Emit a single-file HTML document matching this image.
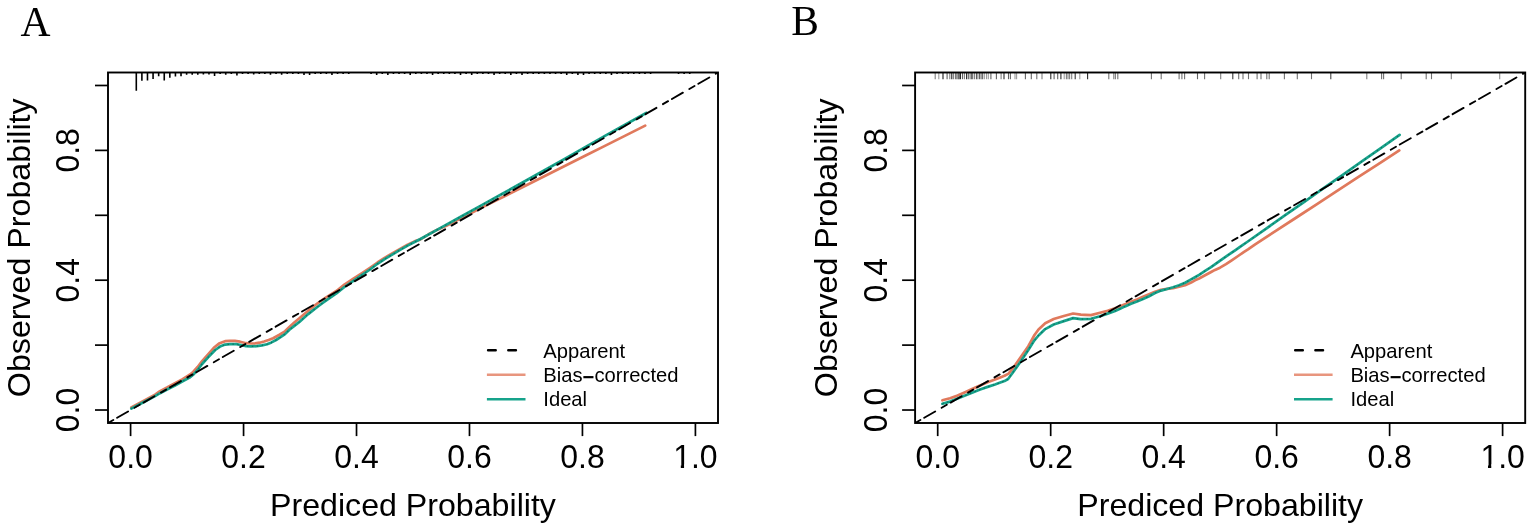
<!DOCTYPE html>
<html><head><meta charset="utf-8"><title>Calibration curves</title>
<style>
html,body{margin:0;padding:0;background:#fff;}
body{width:1535px;height:532px;overflow:hidden;}
svg{display:block;}
.tl{font-family:"Liberation Sans",Arial,Helvetica,sans-serif;font-size:32px;fill:#000;}
.lg{font-family:"Liberation Sans",Arial,Helvetica,sans-serif;font-size:20.2px;fill:#000;}
.ttl{font-family:"Liberation Serif","Times New Roman",serif;font-size:41.5px;fill:#000;}
.tk{stroke:#000;stroke-width:1.7;}
.frm{fill:none;stroke:#000;stroke-width:1.9;}
.diag{stroke:#000;stroke-width:1.9;stroke-linecap:round;stroke-dasharray:5.95 4.43 12.63 7.46;stroke-dashoffset:-0.14;}
.dots{fill:none;stroke:#000;stroke-opacity:.3;stroke-width:1.2;stroke-dasharray:1.4 3.5;stroke-linejoin:round;}
.lgd{stroke:#000;stroke-width:2.5;stroke-dasharray:7.6 12.6;stroke-linecap:round;}
</style></head><body>
<svg width="1535" height="532" viewBox="0 0 1535 532">
<defs>
<clipPath id="clipA"><rect x="108" y="72.5" width="610" height="350.5"/></clipPath>
<clipPath id="clipB"><rect x="915.1" y="72.5" width="610.1" height="350.5"/></clipPath>
</defs>
<text x="20.5" y="35.8" class="ttl">A</text>
<text x="791.3" y="35.2" class="ttl">B</text>
<path d="M136.30 72.5V90.8M141.89 72.5V80.7M147.48 72.5V80.5M153.07 72.5V78.9M158.66 72.5V76.3M164.25 72.5V80.6M169.84 72.5V77.8M175.43 72.5V76.5M181.02 72.5V76.3M186.61 72.5V74.8M192.20 72.5V74.8M197.79 72.5V74.8M203.38 72.5V74.5M208.97 72.5V74.4M214.56 72.5V76.1M220.15 72.5V74.1M225.74 72.5V74.7M231.33 72.5V74.1M236.92 72.5V75.6M242.51 72.5V74.1M248.10 72.5V74.1M253.69 72.5V74.5M259.28 72.5V74.1M264.87 72.5V74.1M270.46 72.5V74.7M276.05 72.5V74.1M281.64 72.5V74.7M287.23 72.5V74.1M292.82 72.5V74.1M298.41 72.5V74.1M304.00 72.5V75.0M309.59 72.5V75.0M315.18 72.5V74.1M320.77 72.5V74.1M326.36 72.5V74.1M331.95 72.5V75.0M337.54 72.5V74.1M343.13 72.5V74.1M348.72 72.5V74.1M371.08 72.5V74.1M376.67 72.5V75.0M382.26 72.5V74.1M387.85 72.5V75.0M393.44 72.5V74.1M399.03 72.5V74.1M404.62 72.5V74.1M410.21 72.5V75.0M415.80 72.5V74.1M421.39 72.5V74.1M426.98 72.5V74.1M432.57 72.5V75.0M438.16 72.5V74.1M443.75 72.5V74.1M449.34 72.5V74.1M454.93 72.5V74.1M460.52 72.5V75.0M466.11 72.5V74.1M471.70 72.5V75.0M477.29 72.5V74.1M482.88 72.5V74.1M488.47 72.5V74.1M494.06 72.5V75.0M499.65 72.5V74.1M505.24 72.5V74.1M510.83 72.5V75.0M516.42 72.5V74.1M522.01 72.5V75.0M527.60 72.5V74.1M533.19 72.5V74.1M538.78 72.5V74.1M544.37 72.5V74.1M549.96 72.5V74.1M555.55 72.5V74.1M561.14 72.5V74.1M566.73 72.5V75.0M572.32 72.5V74.1M577.91 72.5V75.0M583.50 72.5V75.0M589.09 72.5V74.1M594.68 72.5V74.1M600.27 72.5V74.1M605.86 72.5V74.1M611.45 72.5V75.0M617.04 72.5V74.1M622.63 72.5V74.1M628.22 72.5V74.1M633.81 72.5V74.1M639.40 72.5V74.1M644.99 72.5V74.1M650.58 72.5V74.1M678.53 72.5V74.1M684.12 72.5V74.1M689.71 72.5V74.1" stroke="#000" stroke-width="1.6" fill="none"/>
<line x1="935.2" y1="72.5" x2="935.2" y2="79.2" stroke="rgb(126,126,126)" stroke-width="1.1"/>
<line x1="938.8" y1="72.5" x2="938.8" y2="79.2" stroke="rgb(155,155,155)" stroke-width="1.1"/>
<line x1="943.0" y1="72.5" x2="943.0" y2="79.2" stroke="rgb(27,27,27)" stroke-width="1.1"/>
<line x1="947.1" y1="72.5" x2="947.1" y2="79.2" stroke="rgb(98,98,98)" stroke-width="1.1"/>
<line x1="949.8" y1="72.5" x2="949.8" y2="79.2" stroke="rgb(126,126,126)" stroke-width="1.1"/>
<line x1="951.8" y1="72.5" x2="951.8" y2="79.2" stroke="rgb(27,27,27)" stroke-width="1.1"/>
<line x1="953.6" y1="72.5" x2="953.6" y2="79.2" stroke="rgb(126,126,126)" stroke-width="1.1"/>
<line x1="955.7" y1="72.5" x2="955.7" y2="79.2" stroke="rgb(98,98,98)" stroke-width="1.1"/>
<line x1="957.0" y1="72.5" x2="957.0" y2="79.2" stroke="rgb(98,98,98)" stroke-width="1.1"/>
<line x1="958.4" y1="72.5" x2="958.4" y2="79.2" stroke="rgb(98,98,98)" stroke-width="1.1"/>
<line x1="959.3" y1="72.5" x2="959.3" y2="79.2" stroke="rgb(112,112,112)" stroke-width="1.1"/>
<line x1="960.4" y1="72.5" x2="960.4" y2="79.2" stroke="rgb(27,27,27)" stroke-width="1.1"/>
<line x1="962.5" y1="72.5" x2="962.5" y2="79.2" stroke="rgb(98,98,98)" stroke-width="1.1"/>
<line x1="964.4" y1="72.5" x2="964.4" y2="79.2" stroke="rgb(126,126,126)" stroke-width="1.1"/>
<line x1="966.7" y1="72.5" x2="966.7" y2="79.2" stroke="rgb(12,12,12)" stroke-width="1.1"/>
<line x1="968.6" y1="72.5" x2="968.6" y2="79.2" stroke="rgb(112,112,112)" stroke-width="1.1"/>
<line x1="970.1" y1="72.5" x2="970.1" y2="79.2" stroke="rgb(141,141,141)" stroke-width="1.1"/>
<line x1="971.4" y1="72.5" x2="971.4" y2="79.2" stroke="rgb(98,98,98)" stroke-width="1.1"/>
<line x1="972.7" y1="72.5" x2="972.7" y2="79.2" stroke="rgb(98,98,98)" stroke-width="1.1"/>
<line x1="974.6" y1="72.5" x2="974.6" y2="79.2" stroke="rgb(126,126,126)" stroke-width="1.1"/>
<line x1="976.6" y1="72.5" x2="976.6" y2="79.2" stroke="rgb(84,84,84)" stroke-width="1.1"/>
<line x1="977.9" y1="72.5" x2="977.9" y2="79.2" stroke="rgb(141,141,141)" stroke-width="1.1"/>
<line x1="979.5" y1="72.5" x2="979.5" y2="79.2" stroke="rgb(98,98,98)" stroke-width="1.1"/>
<line x1="981.0" y1="72.5" x2="981.0" y2="79.2" stroke="rgb(126,126,126)" stroke-width="1.1"/>
<line x1="982.3" y1="72.5" x2="982.3" y2="79.2" stroke="rgb(84,84,84)" stroke-width="1.1"/>
<line x1="984.2" y1="72.5" x2="984.2" y2="79.2" stroke="rgb(141,141,141)" stroke-width="1.1"/>
<line x1="986.5" y1="72.5" x2="986.5" y2="79.2" stroke="rgb(155,155,155)" stroke-width="1.1"/>
<line x1="988.3" y1="72.5" x2="988.3" y2="79.2" stroke="rgb(155,155,155)" stroke-width="1.1"/>
<line x1="990.9" y1="72.5" x2="990.9" y2="79.2" stroke="rgb(98,98,98)" stroke-width="1.1"/>
<line x1="996.4" y1="72.5" x2="996.4" y2="79.2" stroke="rgb(98,98,98)" stroke-width="1.1"/>
<line x1="1001.1" y1="72.5" x2="1001.1" y2="79.2" stroke="rgb(126,126,126)" stroke-width="1.1"/>
<line x1="1004.0" y1="72.5" x2="1004.0" y2="79.2" stroke="rgb(41,41,41)" stroke-width="1.1"/>
<line x1="1008.5" y1="72.5" x2="1008.5" y2="79.2" stroke="rgb(98,98,98)" stroke-width="1.1"/>
<line x1="1010.4" y1="72.5" x2="1010.4" y2="79.2" stroke="rgb(98,98,98)" stroke-width="1.1"/>
<line x1="1015.0" y1="72.5" x2="1015.0" y2="79.2" stroke="rgb(155,155,155)" stroke-width="1.1"/>
<line x1="1016.6" y1="72.5" x2="1016.6" y2="79.2" stroke="rgb(155,155,155)" stroke-width="1.1"/>
<line x1="1025.4" y1="72.5" x2="1025.4" y2="79.2" stroke="rgb(98,98,98)" stroke-width="1.1"/>
<line x1="1031.3" y1="72.5" x2="1031.3" y2="79.2" stroke="rgb(98,98,98)" stroke-width="1.1"/>
<line x1="1036.8" y1="72.5" x2="1036.8" y2="79.2" stroke="rgb(112,112,112)" stroke-width="1.1"/>
<line x1="1042.0" y1="72.5" x2="1042.0" y2="79.2" stroke="rgb(126,126,126)" stroke-width="1.1"/>
<line x1="1050.8" y1="72.5" x2="1050.8" y2="79.2" stroke="rgb(41,41,41)" stroke-width="1.1"/>
<line x1="1054.1" y1="72.5" x2="1054.1" y2="79.2" stroke="rgb(98,98,98)" stroke-width="1.1"/>
<line x1="1057.7" y1="72.5" x2="1057.7" y2="79.2" stroke="rgb(98,98,98)" stroke-width="1.1"/>
<line x1="1060.9" y1="72.5" x2="1060.9" y2="79.2" stroke="rgb(41,41,41)" stroke-width="1.1"/>
<line x1="1064.2" y1="72.5" x2="1064.2" y2="79.2" stroke="rgb(155,155,155)" stroke-width="1.1"/>
<line x1="1066.4" y1="72.5" x2="1066.4" y2="79.2" stroke="rgb(126,126,126)" stroke-width="1.1"/>
<line x1="1068.0" y1="72.5" x2="1068.0" y2="79.2" stroke="rgb(126,126,126)" stroke-width="1.1"/>
<line x1="1069.6" y1="72.5" x2="1069.6" y2="79.2" stroke="rgb(126,126,126)" stroke-width="1.1"/>
<line x1="1071.7" y1="72.5" x2="1071.7" y2="79.2" stroke="rgb(126,126,126)" stroke-width="1.1"/>
<line x1="1075.2" y1="72.5" x2="1075.2" y2="79.2" stroke="rgb(55,55,55)" stroke-width="1.1"/>
<line x1="1079.8" y1="72.5" x2="1079.8" y2="79.2" stroke="rgb(155,155,155)" stroke-width="1.1"/>
<line x1="1087.6" y1="72.5" x2="1087.6" y2="79.2" stroke="rgb(41,41,41)" stroke-width="1.1"/>
<line x1="1108.8" y1="72.5" x2="1108.8" y2="79.2" stroke="rgb(112,112,112)" stroke-width="1.1"/>
<line x1="1113.8" y1="72.5" x2="1113.8" y2="79.2" stroke="rgb(126,126,126)" stroke-width="1.1"/>
<line x1="1115.4" y1="72.5" x2="1115.4" y2="79.2" stroke="rgb(126,126,126)" stroke-width="1.1"/>
<line x1="1117.8" y1="72.5" x2="1117.8" y2="79.2" stroke="rgb(112,112,112)" stroke-width="1.1"/>
<line x1="1151.4" y1="72.5" x2="1151.4" y2="79.2" stroke="rgb(112,112,112)" stroke-width="1.1"/>
<line x1="1161.2" y1="72.5" x2="1161.2" y2="79.2" stroke="rgb(112,112,112)" stroke-width="1.1"/>
<line x1="1179.1" y1="72.5" x2="1179.1" y2="79.2" stroke="rgb(112,112,112)" stroke-width="1.1"/>
<line x1="1181.9" y1="72.5" x2="1181.9" y2="79.2" stroke="rgb(112,112,112)" stroke-width="1.1"/>
<line x1="1184.6" y1="72.5" x2="1184.6" y2="79.2" stroke="rgb(112,112,112)" stroke-width="1.1"/>
<line x1="1197.5" y1="72.5" x2="1197.5" y2="79.2" stroke="rgb(98,98,98)" stroke-width="1.1"/>
<line x1="1204.6" y1="72.5" x2="1204.6" y2="79.2" stroke="rgb(112,112,112)" stroke-width="1.1"/>
<line x1="1220.7" y1="72.5" x2="1220.7" y2="79.2" stroke="rgb(126,126,126)" stroke-width="1.1"/>
<line x1="1232.8" y1="72.5" x2="1232.8" y2="79.2" stroke="rgb(55,55,55)" stroke-width="1.1"/>
<line x1="1238.7" y1="72.5" x2="1238.7" y2="79.2" stroke="rgb(112,112,112)" stroke-width="1.1"/>
<line x1="1243.0" y1="72.5" x2="1243.0" y2="79.2" stroke="rgb(112,112,112)" stroke-width="1.1"/>
<line x1="1248.5" y1="72.5" x2="1248.5" y2="79.2" stroke="rgb(112,112,112)" stroke-width="1.1"/>
<line x1="1257.1" y1="72.5" x2="1257.1" y2="79.2" stroke="rgb(112,112,112)" stroke-width="1.1"/>
<line x1="1261.0" y1="72.5" x2="1261.0" y2="79.2" stroke="rgb(112,112,112)" stroke-width="1.1"/>
<line x1="1266.8" y1="72.5" x2="1266.8" y2="79.2" stroke="rgb(112,112,112)" stroke-width="1.1"/>
<line x1="1269.2" y1="72.5" x2="1269.2" y2="79.2" stroke="rgb(112,112,112)" stroke-width="1.1"/>
<line x1="1284.4" y1="72.5" x2="1284.4" y2="79.2" stroke="rgb(112,112,112)" stroke-width="1.1"/>
<line x1="1297.3" y1="72.5" x2="1297.3" y2="79.2" stroke="rgb(112,112,112)" stroke-width="1.1"/>
<line x1="1311.5" y1="72.5" x2="1311.5" y2="79.2" stroke="rgb(112,112,112)" stroke-width="1.1"/>
<line x1="1330.8" y1="72.5" x2="1330.8" y2="79.2" stroke="rgb(69,69,69)" stroke-width="1.1"/>
<line x1="1366.8" y1="72.5" x2="1366.8" y2="79.2" stroke="rgb(126,126,126)" stroke-width="1.1"/>
<line x1="1381.6" y1="72.5" x2="1381.6" y2="79.2" stroke="rgb(112,112,112)" stroke-width="1.1"/>
<line x1="1383.6" y1="72.5" x2="1383.6" y2="79.2" stroke="rgb(112,112,112)" stroke-width="1.1"/>
<line x1="1401.2" y1="72.5" x2="1401.2" y2="79.2" stroke="rgb(112,112,112)" stroke-width="1.1"/>
<line x1="1426.2" y1="72.5" x2="1426.2" y2="79.2" stroke="rgb(112,112,112)" stroke-width="1.1"/>
<line x1="1431.5" y1="72.5" x2="1431.5" y2="79.2" stroke="rgb(112,112,112)" stroke-width="1.1"/>
<line x1="1451.3" y1="72.5" x2="1451.3" y2="79.2" stroke="rgb(126,126,126)" stroke-width="1.1"/>
<line x1="1499.7" y1="72.5" x2="1499.7" y2="79.2" stroke="rgb(141,141,141)" stroke-width="1.1"/>
<polyline points="131.3,407.5 143.0,401.2 155.1,394.6 160.0,391.1 167.5,387.3 175.0,383.2 182.6,379.1 190.1,374.5 193.1,371.9 197.6,367.0 202.1,361.2 208.1,354.4 213.8,347.8 219.0,343.6 225.1,341.2 230.0,340.9 234.8,340.8 240.0,341.7 246.1,343.2 250.6,343.5 255.1,343.4 259.6,342.7 264.1,341.5 268.6,340.0 273.1,338.2 279.0,335.0 285.0,331.3 289.4,327.0 294.0,322.8 298.8,318.7 303.5,314.7 308.2,310.7 312.9,306.9 317.6,303.3 322.3,300.0 327.0,296.9 331.7,294.0 336.4,291.0 344.4,284.6 353.8,278.5 363.2,272.4 370.0,267.8 377.5,262.5 385.0,257.6 392.6,253.1 400.1,249.0 407.6,244.8 415.1,241.1 420.0,239.6 428.6,234.3 437.9,229.4 446.4,225.8 466.3,215.5 486.2,205.4 506.0,195.5 525.9,185.5 545.8,175.5 565.7,165.5 585.6,155.5 605.4,145.6 625.3,135.6 645.2,125.6" fill="none" stroke="#E0795C" stroke-width="2.7" stroke-linejoin="round" stroke-linecap="round"/>
<polyline points="131.3,408.6 143.0,402.5 155.1,396.1 160.0,393.2 167.5,389.2 175.0,385.5 182.6,381.3 190.1,377.2 193.8,374.2 197.6,370.0 202.1,364.0 208.1,357.3 215.2,350.0 220.0,346.6 225.1,344.6 230.0,344.2 236.3,344.2 241.0,345.0 246.1,346.1 251.0,346.4 256.6,346.2 262.0,345.4 267.1,344.2 271.5,342.4 276.1,340.0 280.5,337.2 285.0,334.1 289.4,329.7 294.0,326.1 298.8,322.4 303.5,318.2 308.2,314.1 312.9,310.4 317.6,306.8 322.3,303.2 327.0,299.8 331.7,296.7 336.4,293.5 344.4,287.0 353.8,280.6 363.2,274.2 370.0,269.5 377.5,263.8 385.0,258.9 392.6,254.4 400.1,249.9 407.6,245.6 415.1,241.8 420.0,239.3 440.6,227.9 461.2,216.5 481.8,205.1 502.4,193.7 523.0,182.3 543.6,170.8 564.2,159.3 584.8,147.4 605.4,135.6 626.0,124.2 646.6,112.8" fill="none" stroke="#16A38B" stroke-width="2.7" stroke-linejoin="round" stroke-linecap="round"/>
<polyline points="942.4,400.3 950.0,398.2 957.6,395.6 965.1,392.2 972.6,388.8 980.1,385.4 987.6,382.2 995.0,379.6 1000.3,377.4 1004.5,375.8 1008.6,373.6 1013.8,367.1 1021.0,356.7 1028.3,346.2 1031.5,340.5 1034.5,335.0 1038.5,329.5 1045.2,323.2 1053.7,319.0 1063.8,316.0 1073.1,313.5 1080.8,314.7 1085.0,314.9 1091.0,315.1 1100.0,312.8 1107.6,310.9 1115.1,308.3 1120.0,306.2 1125.0,304.2 1131.0,301.8 1137.0,299.4 1143.0,296.7 1149.1,294.2 1155.0,291.8 1161.0,289.8 1167.0,288.8 1173.1,288.1 1179.1,286.6 1185.1,285.3 1191.1,282.6 1195.0,280.3 1199.1,278.5 1205.1,275.3 1211.1,272.0 1215.0,269.9 1220.0,267.7 1226.0,264.1 1232.1,260.1 1238.1,256.0 1244.1,251.8 1248.0,249.3 1255.2,244.3 1275.8,230.9 1296.4,217.5 1317.0,204.1 1337.5,190.6 1358.1,177.2 1378.7,163.8 1399.3,150.4" fill="none" stroke="#E0795C" stroke-width="2.7" stroke-linejoin="round" stroke-linecap="round"/>
<polyline points="942.4,403.8 950.0,401.6 957.6,398.6 965.1,395.6 972.6,392.6 980.1,389.5 987.6,386.9 995.0,384.5 1000.3,382.6 1004.5,381.1 1008.1,379.0 1013.8,371.2 1021.0,360.9 1028.3,350.0 1034.2,340.6 1038.5,335.5 1045.2,329.1 1053.7,324.5 1063.8,321.1 1073.1,318.1 1080.8,319.2 1091.0,318.8 1100.0,316.2 1107.6,313.6 1115.1,310.9 1120.0,308.8 1125.0,306.4 1131.0,303.7 1137.0,301.4 1143.0,299.0 1149.1,296.2 1155.0,293.0 1161.0,290.6 1167.0,289.0 1173.1,287.3 1179.1,285.3 1185.1,282.7 1191.1,279.4 1195.0,277.2 1199.1,274.8 1205.1,270.9 1211.0,267.1 1217.0,262.8 1223.0,258.6 1229.1,254.4 1235.1,250.3 1241.1,246.2 1247.1,242.0 1266.2,228.6 1285.2,215.2 1304.3,201.8 1323.3,188.4 1342.4,175.1 1361.5,161.7 1380.5,148.3 1399.6,134.9" fill="none" stroke="#16A38B" stroke-width="2.7" stroke-linejoin="round" stroke-linecap="round"/>
<polyline points="131.3,408.6 143.0,402.5 155.1,396.1 160.0,393.2 167.5,389.2 175.0,385.5 182.6,381.3 190.1,377.2 193.8,374.2 197.6,370.0 202.1,364.0 208.1,357.3 215.2,350.0 220.0,346.6 225.1,344.6 230.0,344.2 236.3,344.2 241.0,345.0 246.1,346.1 251.0,346.4 256.6,346.2 262.0,345.4 267.1,344.2 271.5,342.4 276.1,340.0 280.5,337.2 285.0,334.1 289.4,329.7 294.0,326.1 298.8,322.4 303.5,318.2 308.2,314.1 312.9,310.4 317.6,306.8 322.3,303.2 327.0,299.8 331.7,296.7 336.4,293.5 344.4,287.0 353.8,280.6 363.2,274.2 370.0,269.5 377.5,263.8 385.0,258.9 392.6,254.4 400.1,249.9 407.6,245.6 415.1,241.8 420.0,239.3 440.6,227.9 461.2,216.5 481.8,205.1 502.4,193.7 523.0,182.3 543.6,170.8 564.2,159.3 584.8,147.4 605.4,135.6 626.0,124.2 646.6,112.8" class="dots"/>
<polyline points="942.4,403.8 950.0,401.6 957.6,398.6 965.1,395.6 972.6,392.6 980.1,389.5 987.6,386.9 995.0,384.5 1000.3,382.6 1004.5,381.1 1008.1,379.0 1013.8,371.2 1021.0,360.9 1028.3,350.0 1034.2,340.6 1038.5,335.5 1045.2,329.1 1053.7,324.5 1063.8,321.1 1073.1,318.1 1080.8,319.2 1091.0,318.8 1100.0,316.2 1107.6,313.6 1115.1,310.9 1120.0,308.8 1125.0,306.4 1131.0,303.7 1137.0,301.4 1143.0,299.0 1149.1,296.2 1155.0,293.0 1161.0,290.6 1167.0,289.0 1173.1,287.3 1179.1,285.3 1185.1,282.7 1191.1,279.4 1195.0,277.2 1199.1,274.8 1205.1,270.9 1211.0,267.1 1217.0,262.8 1223.0,258.6 1229.1,254.4 1235.1,250.3 1241.1,246.2 1247.1,242.0 1266.2,228.6 1285.2,215.2 1304.3,201.8 1323.3,188.4 1342.4,175.1 1361.5,161.7 1380.5,148.3 1399.6,134.9" class="dots"/>
<line x1="108.0" y1="423.0" x2="718.0" y2="72.5" class="diag" clip-path="url(#clipA)"/>
<line x1="915.1" y1="423.0" x2="1525.2" y2="72.5" class="diag" clip-path="url(#clipB)"/>
<line x1="130.59" y1="423.0" x2="130.59" y2="436.1" class="tk"/>
<text transform="translate(130.59,467.9) scale(1,1.055)" class="tl" text-anchor="middle">0.0</text>
<line x1="243.56" y1="423.0" x2="243.56" y2="436.1" class="tk"/>
<text transform="translate(243.56,467.9) scale(1,1.055)" class="tl" text-anchor="middle">0.2</text>
<line x1="356.52" y1="423.0" x2="356.52" y2="436.1" class="tk"/>
<text transform="translate(356.52,467.9) scale(1,1.055)" class="tl" text-anchor="middle">0.4</text>
<line x1="469.48" y1="423.0" x2="469.48" y2="436.1" class="tk"/>
<text transform="translate(469.48,467.9) scale(1,1.055)" class="tl" text-anchor="middle">0.6</text>
<line x1="582.44" y1="423.0" x2="582.44" y2="436.1" class="tk"/>
<text transform="translate(582.44,467.9) scale(1,1.055)" class="tl" text-anchor="middle">0.8</text>
<line x1="695.41" y1="423.0" x2="695.41" y2="436.1" class="tk"/>
<text transform="translate(695.41,467.9) scale(1,1.055)" class="tl" text-anchor="middle">1.0</text>
<line x1="95.0" y1="410.02" x2="108.0" y2="410.02" class="tk"/>
<text transform="translate(79.4,410.02) rotate(-90) scale(1,1.055)" class="tl" text-anchor="middle">0.0</text>
<line x1="95.0" y1="345.11" x2="108.0" y2="345.11" class="tk"/>
<line x1="95.0" y1="280.20" x2="108.0" y2="280.20" class="tk"/>
<text transform="translate(79.4,280.20) rotate(-90) scale(1,1.055)" class="tl" text-anchor="middle">0.4</text>
<line x1="95.0" y1="215.30" x2="108.0" y2="215.30" class="tk"/>
<line x1="95.0" y1="150.39" x2="108.0" y2="150.39" class="tk"/>
<text transform="translate(79.4,150.39) rotate(-90) scale(1,1.055)" class="tl" text-anchor="middle">0.8</text>
<line x1="95.0" y1="85.48" x2="108.0" y2="85.48" class="tk"/>
<rect x="674.51" y="464.4" width="6.3" height="4" fill="#fff"/>
<rect x="684.06" y="464.4" width="6.3" height="4" fill="#fff"/>
<text x="413.0" y="516.3" class="tl" style="font-size:32.15px" text-anchor="middle">Prediced Probability</text>
<text transform="translate(29.8,247.75) rotate(-90)" class="tl" style="font-size:32.2px" text-anchor="middle">Observed Probability</text>
<rect x="108.0" y="72.5" width="610.0" height="350.5" class="frm"/>
<line x1="937.70" y1="423.0" x2="937.70" y2="436.1" class="tk"/>
<text transform="translate(937.70,467.9) scale(1,1.055)" class="tl" text-anchor="middle">0.0</text>
<line x1="1050.68" y1="423.0" x2="1050.68" y2="436.1" class="tk"/>
<text transform="translate(1050.68,467.9) scale(1,1.055)" class="tl" text-anchor="middle">0.2</text>
<line x1="1163.66" y1="423.0" x2="1163.66" y2="436.1" class="tk"/>
<text transform="translate(1163.66,467.9) scale(1,1.055)" class="tl" text-anchor="middle">0.4</text>
<line x1="1276.64" y1="423.0" x2="1276.64" y2="436.1" class="tk"/>
<text transform="translate(1276.64,467.9) scale(1,1.055)" class="tl" text-anchor="middle">0.6</text>
<line x1="1389.62" y1="423.0" x2="1389.62" y2="436.1" class="tk"/>
<text transform="translate(1389.62,467.9) scale(1,1.055)" class="tl" text-anchor="middle">0.8</text>
<line x1="1502.60" y1="423.0" x2="1502.60" y2="436.1" class="tk"/>
<text transform="translate(1502.60,467.9) scale(1,1.055)" class="tl" text-anchor="middle">1.0</text>
<line x1="902.1" y1="410.02" x2="915.1" y2="410.02" class="tk"/>
<text transform="translate(886.5,410.02) rotate(-90) scale(1,1.055)" class="tl" text-anchor="middle">0.0</text>
<line x1="902.1" y1="345.11" x2="915.1" y2="345.11" class="tk"/>
<line x1="902.1" y1="280.20" x2="915.1" y2="280.20" class="tk"/>
<text transform="translate(886.5,280.20) rotate(-90) scale(1,1.055)" class="tl" text-anchor="middle">0.4</text>
<line x1="902.1" y1="215.30" x2="915.1" y2="215.30" class="tk"/>
<line x1="902.1" y1="150.39" x2="915.1" y2="150.39" class="tk"/>
<text transform="translate(886.5,150.39) rotate(-90) scale(1,1.055)" class="tl" text-anchor="middle">0.8</text>
<line x1="902.1" y1="85.48" x2="915.1" y2="85.48" class="tk"/>
<rect x="1481.70" y="464.4" width="6.3" height="4" fill="#fff"/>
<rect x="1491.25" y="464.4" width="6.3" height="4" fill="#fff"/>
<text x="1220.2" y="516.3" class="tl" style="font-size:32.15px" text-anchor="middle">Prediced Probability</text>
<text transform="translate(836.9,247.75) rotate(-90)" class="tl" style="font-size:32.2px" text-anchor="middle">Observed Probability</text>
<rect x="915.1" y="72.5" width="610.1" height="350.5" class="frm"/>
<line x1="488.1" y1="350.3" x2="517.1" y2="350.3" class="lgd"/>
<line x1="486.9" y1="374.8" x2="525.5" y2="374.8" stroke="#E8957E" stroke-width="2.6"/>
<line x1="486.9" y1="399.2" x2="525.5" y2="399.2" stroke="#16A38B" stroke-width="2.6"/>
<text x="543.3" y="357.8" class="lg">Apparent</text>
<text x="543.3" y="381.8" class="lg">Bias<tspan font-weight="bold" dy="1.7">&#8722;</tspan><tspan dy="-1.7">corrected</tspan></text>
<text x="543.3" y="405.8" class="lg">Ideal</text>
<line x1="1295.2" y1="350.3" x2="1324.2" y2="350.3" class="lgd"/>
<line x1="1294.0" y1="374.8" x2="1332.6" y2="374.8" stroke="#E8957E" stroke-width="2.6"/>
<line x1="1294.0" y1="399.2" x2="1332.6" y2="399.2" stroke="#16A38B" stroke-width="2.6"/>
<text x="1350.4" y="357.8" class="lg">Apparent</text>
<text x="1350.4" y="381.8" class="lg">Bias<tspan font-weight="bold" dy="1.7">&#8722;</tspan><tspan dy="-1.7">corrected</tspan></text>
<text x="1350.4" y="405.8" class="lg">Ideal</text>
</svg>
</body></html>
